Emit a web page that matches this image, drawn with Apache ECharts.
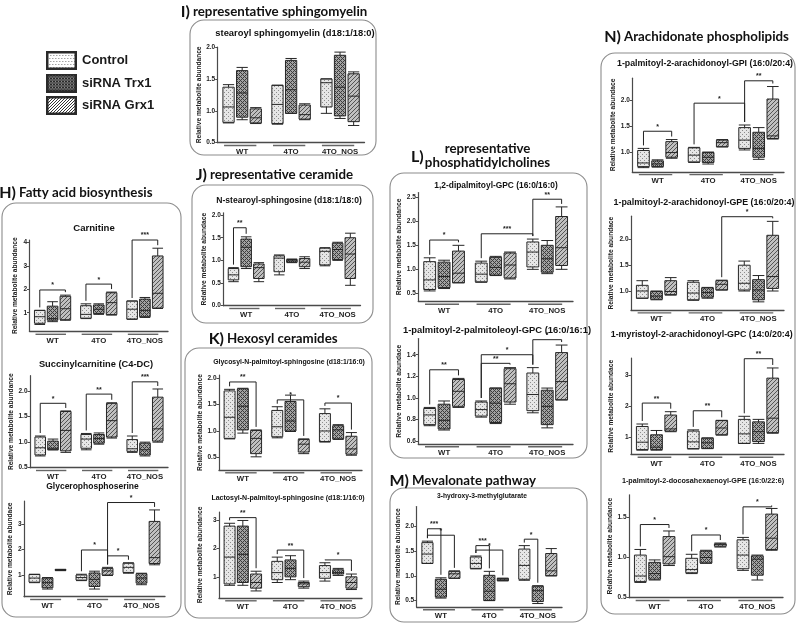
<!DOCTYPE html>
<html><head><meta charset="utf-8">
<script src="https://cdn.jsdelivr.net/npm/echarts@6/dist/echarts.min.js"></script>
<style>html,body{margin:0;padding:0;background:#fff}#c{width:796px;height:624px}</style>
</head><body><div id="c"></div>
<script>
const groups = ['WT', '4TO', '4TO_NOS'];
const seriesNames = ['Control', 'siRNA Trx1', 'siRNA Grx1'];
// each box: [min, Q1, median, Q3, max], one per group; sig: [groupA, seriesA, groupB, seriesB, level, stars]

const carnitineCtl = [[0.50,0.55,0.83,1.10,1.10],[0.75,0.77,0.93,1.30,1.38],[0.72,0.73,1.15,1.50,1.50]];
const carnitineTrx = [[0.62,0.68,0.75,1.28,1.47],[0.93,0.97,1.15,1.33,1.38],[0.80,0.83,1.10,1.58,1.65]];
const carnitineGrx = [[0.68,0.70,1.17,1.70,1.75],[0.90,0.92,1.43,1.85,1.88],[1.18,1.20,1.83,3.42,3.75]];
const carnitineSig = [[0,0,0,2,1.97,'*'],[1,0,1,2,2.22,'*'],[2,0,2,2,4.10,'***']];
const carnitineTicks = ['1','2','3','4'];

const succinylCtl = [[0.73,0.75,0.89,1.10,1.12],[0.85,0.88,1.06,1.15,1.17],[0.80,0.82,0.87,1.05,1.12]];
const succinylTrx = [[0.85,0.85,0.88,1.02,1.06],[0.96,0.98,1.07,1.15,1.18],[0.73,0.75,0.85,0.98,1.00]];
const succinylGrx = [[0.80,0.83,1.23,1.60,1.61],[1.08,1.10,1.42,1.76,1.77],[1.00,1.02,1.26,1.88,2.04]];
const succinylSig = [[0,0,0,2,1.76,'*'],[1,0,1,2,1.94,'**'],[2,0,2,2,2.18,'***']];
const succinylTicks = ['0.5','1.0','1.5','2.0'];

const glyceroCtl = [[0.70,0.72,0.88,1.02,1.03],[0.78,0.80,0.90,1.00,1.03],[1.07,1.10,1.30,1.46,1.48]];
const glyceroTrx = [[0.45,0.50,0.70,0.88,0.90],[0.45,0.55,0.83,1.08,1.15],[0.62,0.68,0.88,1.05,1.07]];
const glyceroGrx = [[1.17,1.18,1.20,1.22,1.22],[0.98,1.00,1.16,1.26,1.30],[1.40,1.45,1.68,3.10,3.55]];
const glyceroSig = [[1,0,1,2,1.98,'*'],[1,2,2,0,1.75,'*'],[1,2,2,2,3.84,'*']];
const glyceroTicks = ['1','2','3'];

const smCtl = [[0.81,0.82,1.06,1.37,1.41],[0.79,0.80,1.10,1.40,1.40],[0.96,1.06,1.44,1.50,1.50]];
const smTrx = [[0.86,0.90,1.28,1.63,1.68],[0.96,0.96,1.33,1.79,1.82],[0.88,0.92,1.37,1.87,1.92]];
const smGrx = [[0.80,0.81,0.89,1.03,1.05],[0.86,0.87,0.94,1.09,1.11],[0.77,0.83,1.23,1.58,1.61]];
const smSig = [];
const smTicks = ['0.5','1.0','1.5','2.0'];

const ceramideCtl = [[0.53,0.57,0.68,0.82,0.84],[0.68,0.75,1.05,1.10,1.12],[0.88,0.90,1.20,1.27,1.28]];
const ceramideTrx = [[0.82,0.86,1.29,1.47,1.52],[0.95,0.96,0.99,1.02,1.03],[1.00,1.02,1.24,1.38,1.40]];
const ceramideGrx = [[0.53,0.60,0.84,0.92,0.95],[0.82,0.86,0.96,1.04,1.08],[0.45,0.60,1.14,1.50,1.60]];
const ceramideSig = [[0,0,0,1,1.72,'**']];
const ceramideTicks = ['0.0','0.5','1.0','1.5','2.0'];

const glycosylCtl = [[0.85,0.86,1.26,1.76,1.79],[0.87,0.89,1.08,1.39,1.46],[0.79,0.80,1.00,1.33,1.42]];
const glycosylTrx = [[0.96,1.02,1.47,1.80,1.81],[0.99,1.00,1.19,1.56,1.68],[0.84,0.85,1.02,1.10,1.12]];
const glycosylGrx = [[0.51,0.57,0.86,1.01,1.02],[0.57,0.60,0.75,0.84,0.85],[0.54,0.56,0.66,0.90,0.97]];
const glycosylSig = [[0,0,0,2,1.93,'**'],[1,0,1,2,1.59,'*'],[2,0,2,2,1.53,'*']];
const glycosylTicks = ['0.5','1.0','1.5','2.0'];

const lactosylCtl = [[0.70,0.75,1.70,2.80,2.90],[0.80,0.90,1.15,1.55,1.70],[0.85,0.95,1.15,1.40,1.50]];
const lactosylTrx = [[0.70,0.80,1.80,2.80,3.00],[0.90,1.00,1.30,1.60,1.75],[1.05,1.10,1.15,1.25,1.30]];
const lactosylGrx = [[0.50,0.60,0.80,1.10,1.20],[0.60,0.65,0.75,0.80,0.85],[0.55,0.60,0.80,1.00,1.10]];
const lactosylSig = [[0,0,0,2,3.10,'**'],[1,0,1,2,1.95,'**'],[2,0,2,2,1.60,'*']];
const lactosylTicks = ['1','2','3'];

const dipalmCtl = [[0.55,0.58,0.78,1.16,1.24],[0.73,0.74,0.90,1.13,1.17],[1.00,1.05,1.36,1.57,1.63]];
const dipalmTrx = [[0.60,0.62,0.85,1.15,1.19],[0.87,0.88,1.04,1.25,1.27],[0.91,0.94,1.22,1.50,1.60]];
const dipalmGrx = [[0.72,0.72,0.92,1.38,1.50],[0.80,0.82,1.09,1.34,1.36],[1.00,1.08,1.45,2.10,2.30]];
const dipalmSig = [[0,0,0,2,1.61,'*'],[1,0,2,0,1.74,'***'],[2,0,2,2,2.46,'**']];
const dipalmTicks = ['0.5','1.0','1.5','2.0','2.5'];

const palmitoleoylCtl = [[0.74,0.75,0.84,0.90,0.91],[0.82,0.83,0.89,0.96,0.97],[0.86,0.88,1.03,1.23,1.28]];
const palmitoleoylTrx = [[0.70,0.71,0.79,0.94,0.97],[0.76,0.77,0.95,1.09,1.09],[0.72,0.75,0.92,1.07,1.09]];
const palmitoleoylGrx = [[0.91,0.92,1.06,1.17,1.18],[0.94,0.96,1.13,1.27,1.28],[0.98,0.98,1.15,1.42,1.49]];
const palmitoleoylSig = [[0,0,0,2,1.26,'**'],[1,0,1,2,1.32,'**'],[1,0,2,0,1.40,'*'],[2,0,2,2,1.54,'*']];
const palmitoleoylTicks = ['0.6','0.8','1.0','1.2','1.4'];

const hmgCtl = [[1.25,1.25,1.44,1.67,1.70],[1.14,1.15,1.25,1.38,1.40],[0.91,0.93,1.21,1.54,1.61]];
const hmgTrx = [[0.55,0.57,0.73,0.93,0.96],[0.50,0.50,0.69,1.01,1.09],[0.44,0.48,0.70,0.79,0.80]];
const hmgGrx = [[0.95,0.95,1.04,1.09,1.10],[0.90,0.90,0.92,0.95,0.95],[1.00,1.00,1.10,1.45,1.55]];
const hmgSig = [[0,0,0,1,1.95,'***'],[0,0,0,2,1.82,'*'],[1,0,1,1,1.61,'***'],[1,0,1,2,1.52,'*'],[2,0,2,1,1.74,'*']];
const hmgTicks = ['0.5','1.0','1.5','2.0'];

const gpiCtl = [[0.70,0.72,0.79,1.03,1.07],[0.80,0.81,0.94,1.08,1.09],[1.04,1.07,1.23,1.47,1.52]];
const gpiTrx = [[0.71,0.72,0.77,0.83,0.85],[0.77,0.80,0.90,0.99,1.00],[0.86,0.90,1.07,1.38,1.47]];
const gpiGrx = [[0.88,0.90,0.99,1.20,1.24],[1.10,1.10,1.18,1.23,1.24],[1.25,1.26,1.31,2.02,2.26]];
const gpiSig = [[0,0,0,2,1.40,'*'],[1,0,2,0,1.94,'*'],[2,0,2,2,2.37,'**']];
const gpiTicks = ['1.0','1.5','2.0'];

const gpeCtl = [[0.86,0.86,1.00,1.11,1.20],[0.82,0.83,0.96,1.17,1.20],[1.00,1.02,1.15,1.50,1.58]];
const gpeTrx = [[0.83,0.84,0.90,0.99,1.00],[0.86,0.88,0.97,1.06,1.07],[0.79,0.83,1.02,1.22,1.30]];
const gpeGrx = [[0.92,0.93,0.99,1.20,1.26],[1.02,1.02,1.13,1.20,1.21],[1.00,1.05,1.28,2.08,2.35]];
const gpeSig = [[1,2,2,2,2.44,'*']];
const gpeTicks = ['1.0','1.5','2.0'];

const myristoylCtl = [[0.58,0.60,0.84,1.35,1.43],[0.62,0.63,0.85,1.20,1.24],[0.80,0.80,1.11,1.58,1.68]];
const myristoylTrx = [[0.58,0.60,0.68,1.08,1.22],[0.63,0.64,0.82,0.97,0.98],[0.80,0.86,1.18,1.50,1.58]];
const myristoylGrx = [[1.18,1.20,1.27,1.72,1.83],[1.07,1.08,1.30,1.54,1.55],[1.13,1.15,1.62,2.92,3.25]];
const myristoylSig = [[0,0,0,2,2.11,'**'],[1,0,1,2,1.86,'**'],[2,0,2,2,3.55,'**']];
const myristoylTicks = ['1','2','3'];

const dhaCtl = [[0.69,0.70,0.77,1.03,1.10],[0.80,0.81,0.85,0.99,1.04],[0.84,0.86,1.03,1.22,1.25]];
const dhaTrx = [[0.72,0.73,0.80,0.94,0.97],[0.93,0.93,1.00,1.08,1.09],[0.72,0.78,0.98,1.02,1.03]];
const dhaGrx = [[0.90,0.92,1.01,1.26,1.33],[1.13,1.14,1.16,1.17,1.18],[1.09,1.10,1.24,1.54,1.61]];
const dhaSig = [[0,0,0,2,1.41,'*'],[1,0,1,2,1.28,'*'],[2,0,2,2,1.63,'*']];
const dhaTicks = ['0.5','1.0','1.5'];

const ynameA = 'Relative metabolite abundance';
const ynameB = 'Relative metabolite abundace';

const plots = [
  {title:'Carnitine', data:[carnitineCtl,carnitineTrx,carnitineGrx], sig:carnitineSig, ticks:carnitineTicks, min:0.2, max:4.1, yname:ynameA},
  {title:'Succinylcarnitine (C4-DC)', data:[succinylCtl,succinylTrx,succinylGrx], sig:succinylSig, ticks:succinylTicks, min:0.5, max:2.3, yname:ynameA},
  {title:'Glycerophosphoserine', data:[glyceroCtl,glyceroTrx,glyceroGrx], sig:glyceroSig, ticks:glyceroTicks, min:0.15, max:3.9, yname:ynameB},
  {title:'stearoyl sphingomyelin (d18:1/18:0)', data:[smCtl,smTrx,smGrx], sig:smSig, ticks:smTicks, min:0.5, max:2.0, yname:ynameA},
  {title:'N-stearoyl-sphingosine (d18:1/18:0)', data:[ceramideCtl,ceramideTrx,ceramideGrx], sig:ceramideSig, ticks:ceramideTicks, min:0, max:2.05, yname:ynameB},
  {title:'Glycosyl-N-palmitoyl-sphingosine (d18:1/16:0)', data:[glycosylCtl,glycosylTrx,glycosylGrx], sig:glycosylSig, ticks:glycosylTicks, min:0.26, max:2.06, yname:ynameA},
  {title:'Lactosyl-N-palmitoyl-sphingosine (d18:1/16:0)', data:[lactosylCtl,lactosylTrx,lactosylGrx], sig:lactosylSig, ticks:lactosylTicks, min:0.25, max:3.3, yname:ynameA},
  {title:'1,2-dipalmitoyl-GPC (16:0/16:0)', data:[dipalmCtl,dipalmTrx,dipalmGrx], sig:dipalmSig, ticks:dipalmTicks, min:0.33, max:2.6, yname:ynameA},
  {title:'1-palmitoyl-2-palmitoleoyl-GPC (16:0/16:1)', data:[palmitoleoylCtl,palmitoleoylTrx,palmitoleoylGrx], sig:palmitoleoylSig, ticks:palmitoleoylTicks, min:0.57, max:1.55, yname:ynameB},
  {title:'3-hydroxy-3-methylglutarate', data:[hmgCtl,hmgTrx,hmgGrx], sig:hmgSig, ticks:hmgTicks, min:0.37, max:2.4, yname:ynameA},
  {title:'1-palmitoyl-2-arachidonoyl-GPI (16:0/20:4)', data:[gpiCtl,gpiTrx,gpiGrx], sig:gpiSig, ticks:gpiTicks, min:0.62, max:2.42, yname:ynameB},
  {title:'1-palmitoyl-2-arachidonoyl-GPE (16:0/20:4)', data:[gpeCtl,gpeTrx,gpeGrx], sig:gpeSig, ticks:gpeTicks, min:0.63, max:2.45, yname:ynameB},
  {title:'1-myristoyl-2-arachidonoyl-GPC (14:0/20:4)', data:[myristoylCtl,myristoylTrx,myristoylGrx], sig:myristoylSig, ticks:myristoylTicks, min:0.44, max:3.57, yname:ynameB},
  {title:'1-palmitoyl-2-docosahexaenoyl-GPE (16:0/22:6)', data:[dhaCtl,dhaTrx,dhaGrx], sig:dhaSig, ticks:dhaTicks, min:0.5, max:1.78, yname:ynameA}
];

// layout: grid [left, top, width, height], title [cx, cy, fontSize], nameGap
const layout = [
  {grid:[29.5,240,138.5,91.5], title:[94,228,9.6], gap:11},
  {grid:[30,375.7,138,92], title:[96,364,9.3], gap:14.5},
  {grid:[24,501,141,95.7], title:[92.5,487,8.5], gap:9},
  {grid:[217.7,47,146.8,95.7], title:[295,33,9.4], gap:9},
  {grid:[223.3,212.8,137.2,92.9], title:[289,200.7,8.6], gap:14.5},
  {grid:[219,375.1,143,94.9], title:[289,361.7,6.9], gap:15.5},
  {grid:[219,512,143,86], title:[288,497.7,7], gap:15},
  {grid:[418.3,192.5,154.7,109], title:[496,186,8.4], gap:13},
  {grid:[418.3,338.6,154.7,105.4], title:[497,330,9.4], gap:15.5},
  {grid:[416.7,506.5,145.3,100.5], title:[482,496,6.7], gap:10},
  {grid:[632.3,78.2,151.7,93.6], title:[705,63.3,8.8], gap:15.5},
  {grid:[631,216.2,153,93.9], title:[704,202.7,8.9], gap:16.5},
  {grid:[631,358.1,153,96.4], title:[701.7,334.3,8.9], gap:16.5},
  {grid:[629,494.8,154,102.9], title:[703,481,7.2], gap:15.5}
];

function makePattern(kind) {
  const c = document.createElement('canvas');
  c.width = 4; c.height = 4;
  const g = c.getContext('2d');
  if (kind === 0) {
    g.fillStyle = '#e6e6e6'; g.fillRect(0,0,4,4);
    g.fillStyle = '#8c8c8c'; g.fillRect(0,0,1,1); g.fillRect(2,2,1,1);
  } else if (kind === 1) {
    g.fillStyle = '#a2a2a2'; g.fillRect(0,0,4,4);
    g.fillStyle = '#3c3c3c';
    for (let x=0;x<4;x++) for (let y=0;y<4;y++) if ((x+y)%4===0 || (x-y+4)%4===0) g.fillRect(x,y,1,1);
  } else {
    g.fillStyle = '#c0c0c0'; g.fillRect(0,0,4,4);
    g.fillStyle = '#555';
    for (let x=0;x<4;x++) for (let y=0;y<4;y++) if ((x+y)%4===3) g.fillRect(x,y,1,1);
  }
  return {image: c, repeat: 'repeat'};
}
const patterns = [makePattern(0), makePattern(1), makePattern(2)];

function legendIcon(kind) {
  const w = 31, h = 19;
  const c = document.createElement('canvas');
  c.width = w; c.height = h;
  const g = c.getContext('2d');
  g.fillStyle = '#fff'; g.fillRect(0,0,w,h);
  if (kind === 0) {
    g.fillStyle = '#777';
    for (let y=4; y<h-2; y+=3) for (let x=3 + ((y/3)%2); x<w-2; x+=3) g.fillRect(x,y,1,1);
  } else if (kind === 1) {
    g.fillStyle = '#8a8a8a'; g.fillRect(0,0,w,h);
    g.fillStyle = '#2a2a2a';
    for (let x=0;x<w;x++) for (let y=0;y<h;y++) if ((x+y)%3===0 || (x-y+60)%3===0) g.fillRect(x,y,1,1);
  } else {
    g.strokeStyle = '#333'; g.lineWidth = 1;
    for (let k=-h; k<w+h; k+=3) { g.beginPath(); g.moveTo(k, h); g.lineTo(k+h, 0); g.stroke(); }
  }
  g.strokeStyle = '#2a2a2a'; g.lineWidth = 2.5;
  g.strokeRect(1.25,1.25,w-2.5,h-2.5);
  return 'image://' + c.toDataURL();
}

const FONT = 'Liberation Sans';
const grid = [], xAxis = [], yAxis = [], series = [], elements = [];

plots.forEach((p, i) => {
  const L = layout[i];
  grid.push({left:L.grid[0], top:L.grid[1], width:L.grid[2], height:L.grid[3], containLabel:false});
  xAxis.push({type:'category', gridIndex:i, data:groups,
    axisLine:{lineStyle:{color:'#4a4a4a', width:1.3}}, axisTick:{show:false},
    axisLabel:{interval:0, margin:5, fontSize:7.8, fontWeight:'bold', color:'#1e1e1e', fontFamily:FONT},
    splitLine:{show:false}});
  const tv = p.ticks.map(Number);
  yAxis.push({type:'value', gridIndex:i, min:p.min, max:p.max,
    name:p.yname, nameLocation:'middle', nameRotate:90, nameGap:L.gap,
    nameTextStyle:{fontSize:6.6, fontWeight:'bold', color:'#222', fontFamily:FONT},
    axisLine:{show:true, lineStyle:{color:'#4a4a4a', width:1.2}},
    axisTick:{show:true, length:2.5, customValues:tv, lineStyle:{color:'#4a4a4a'}},
    axisLabel:{customValues:tv, margin:2.5, fontSize:6.5, fontWeight:'bold', color:'#222', fontFamily:FONT,
      formatter:(v)=>{ const k = tv.indexOf(v); return k >= 0 ? p.ticks[k] : String(v); }},
    splitLine:{show:false}});
  p.data.forEach((d, s) => {
    series.push({type:'boxplot', name:seriesNames[s], xAxisIndex:i, yAxisIndex:i, data:d,
      boxWidth:['23%','23%'], silent:true, animation:false,
      itemStyle:{color:patterns[s], borderColor:'#262626', borderWidth:1},
      emphasis:{disabled:true}});
  });
  series.push({type:'custom', xAxisIndex:i, yAxisIndex:i, silent:true, animation:false, clip:false,
    data:groups.map((g, k) => [k, p.min]),
    renderItem:(params, api) => {
      const bw = api.size([1,0])[0];
      const pt = api.coord([api.value(0), api.value(1)]);
      return {type:'line', shape:{x1:pt[0]-0.37*bw, y1:pt[1]+2.8, x2:pt[0]+0.29*bw, y2:pt[1]+2.8},
        style:{stroke:'#666', lineWidth:1.4}};
    }});
  if (p.sig.length) {
    series.push({type:'custom', xAxisIndex:i, yAxisIndex:i, silent:true, animation:false, clip:false,
      data:p.sig.map(b => [b[0], b[4]]),
      renderItem:(params, api) => {
        const b = p.sig[params.dataIndex];
        const bw = api.size([1,0])[0];
        const A = 0.8*bw - 2;
        const step = A*0.1 + A*0.8/3;
        const xa = api.coord([b[0], b[4]])[0] + (b[1]-1)*step;
        const xb = api.coord([b[2], b[4]])[0] + (b[3]-1)*step;
        const y = api.coord([b[0], b[4]])[1];
        const ya = api.coord([b[0], p.data[b[1]][b[0]][4]])[1] - 3;
        const yb = api.coord([b[2], p.data[b[3]][b[2]][4]])[1] - 3;
        return {type:'group', children:[
          {type:'polyline', shape:{points:[[xa,ya],[xa,y],[xb,y],[xb,yb]]}, style:{stroke:'#222', lineWidth:1, fill:null}},
          {type:'text', style:{text:b[5], x:(xa+xb)/2, y:y-1, align:'center', verticalAlign:'bottom', textAlign:'center', textVerticalAlign:'bottom', font:'bold 7px "Liberation Sans"', fill:'#222'}}
        ]};
      }});
  }
  elements.push({type:'text', silent:true, style:{text:p.title, x:L.title[0], y:L.title[1], align:'center', verticalAlign:'middle', textAlign:'center', textVerticalAlign:'middle', font:'bold '+L.title[2]+'px "Liberation Sans"', fill:'#111'}});
});

const panels = [[2,203,179,414],[190,20,186,135],[192,185,181,138],[185,348,187,270],[390,173,197,285],[390,488,197,134],[601,53,194,561]];
panels.forEach(r => elements.push({type:'rect', silent:true, z:-1, shape:{x:r[0], y:r[1], width:r[2], height:r[3], r:14}, style:{fill:'none', stroke:'#8c8c8c', lineWidth:1.1}}));

// section headings: [letter, text, textX, y]
const headings = [
  ['H)', 'Fatty acid biosynthesis', 19, 193],
  ['I)', 'representative sphingomyelin', 193, 12],
  ['J)', 'representative ceramide', 210, 175],
  ['K)', 'Hexosyl ceramides', 227, 339],
  ['M)', 'Mevalonate pathway', 412, 481],
  ['N)', 'Arachidonate phospholipids', 624, 37]
];
const txt = (text, x, y, align, font) => ({type:'text', silent:true, style:{text, x, y, align, verticalAlign:'middle', textAlign:align, textVerticalAlign:'middle', font, fill:'#111'}});
headings.forEach(h => {
  elements.push(txt(h[0], h[2]-3, h[3]-0.5, 'right', 'bold 16px Lato'));
  elements.push(txt(h[1], h[2], h[3], 'left', 'bold 13.3px Lato'));
});
elements.push(txt('L)', 411, 157, 'left', 'bold 16px Lato'));
elements.push(txt('representative', 487.5, 148.5, 'center', 'bold 13.3px Lato'));
elements.push(txt('phosphatidylcholines', 487.5, 163, 'center', 'bold 13.3px Lato'));

const chart = echarts.init(document.getElementById('c'), null, {renderer:'canvas'});
chart.setOption({
  animation:false,
  backgroundColor:'#fff',
  legend:{data:seriesNames.map((n, k) => ({name:n, icon:legendIcon(k)})), orient:'vertical', left:41, top:46,
    itemWidth:31, itemHeight:19, itemGap:3.5, selectedMode:false,
    textStyle:{fontSize:13, fontWeight:'bold', color:'#1a1a1a', fontFamily:FONT}},
  grid, xAxis, yAxis, series,
  graphic:{elements}
});
</script>
</body></html>
